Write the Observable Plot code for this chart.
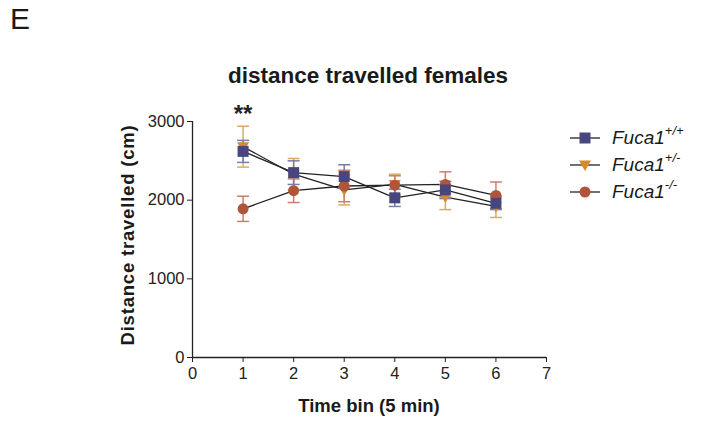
<!DOCTYPE html>
<html>
<head>
<meta charset="utf-8">
<script src="https://cdn.jsdelivr.net/npm/d3@7"></script>
<script src="https://cdn.jsdelivr.net/npm/@observablehq/plot@0.6"></script>
<style>
  html, body { margin: 0; padding: 0; background: #fff; }
  #wrap { position: relative; width: 709px; height: 427px; font-family: "Liberation Sans", Arial, sans-serif; color: #1a1a1a; }
  #wrap svg.plot { position: absolute; left: 0; top: 0; }
  .abs { position: absolute; white-space: nowrap; }
  #panel { left: 10px; top: 2px; font-size: 30px; }
  #title { left: 368px; top: 63px; transform: translateX(-50%); font-size: 22.5px; font-weight: bold; }
  #xlab { left: 369px; top: 395px; transform: translateX(-50%); font-size: 18.5px; font-weight: bold; }
  #ylab { left: 128px; top: 235px; transform: translate(-50%, -50%) rotate(-90deg); font-size: 18.5px; font-weight: bold; letter-spacing: 0.8px; }
  #legend { left: 568px; top: 124px; }
  .row { display: flex; align-items: center; height: 27px; }
  .row svg { margin-right: 10px; }
  .lab { font-style: italic; font-size: 19px; }
  .lab sup { font-size: 13px; position: relative; top: -2px; }
</style>
</head>
<body>
<div id="wrap">
  <div id="panel" class="abs">E</div>
  <div id="title" class="abs">distance travelled females</div>
  <div id="xlab" class="abs">Time bin (5 min)</div>
  <div id="ylab" class="abs">Distance travelled (cm)</div>
  <div id="legend" class="abs"></div>
</div>
<script>
// ---- data ----
const timeBins = [1, 2, 3, 4, 5, 6];
const wtMean  = [2620, 2350, 2300, 2030, 2130, 1960];
const wtSem   = [140, 150, 150, 110, 110, 80];
const hetMean = [2680, 2330, 2130, 2200, 2040, 1920];
const hetSem  = [260, 200, 190, 130, 160, 140];
const koMean  = [1890, 2120, 2180, 2190, 2200, 2060];
const koSem   = [160, 150, 200, 120, 160, 170];
const genotypes = ["+/+", "+/-", "-/-"];
const geneName = "Fuca1";
const xTicks = [0, 1, 2, 3, 4, 5, 6, 7];
const yTicks = [0, 1000, 2000, 3000];
const sigBins = [1];
const sigLabels = ["**"];

// ---- styles ----
const colors = ["#47467e", "#d38b2c", "#b0553a"];
const errColors = ["#7d7ca6", "#e0a865", "#c9806b"];

const sqSym = {draw(c) { const h = 5.5; c.rect(-h, -h, 2*h, 2*h); }};
const triSym = {draw(c) { c.moveTo(-6, -4.5); c.lineTo(6, -4.5); c.lineTo(0, 6); c.closePath(); }};
const circSym = {draw(c) { c.arc(0, 0, 5.5, 0, 2*Math.PI); }};
const capSym = {draw(c) { c.moveTo(-6, 0); c.lineTo(6, 0); }};
const syms = [sqSym, triSym, circSym];

const series = [
  {mean: wtMean, sem: wtSem},
  {mean: hetMean, sem: hetSem},
  {mean: koMean, sem: koSem}
];
const rows = series.map((s, i) => timeBins.map((t, j) => ({
  t, g: genotypes[i], v: s.mean[j], lo: s.mean[j] - s.sem[j], hi: s.mean[j] + s.sem[j]
})));

// draw order: het, ko, wt (wt on top)
const order = [1, 2, 0];
const marks = [];
order.forEach(i => {
  marks.push(Plot.line(rows[i], {x: "t", y: "v", stroke: "#222", strokeWidth: 1.3}));
});
order.forEach(i => {
  marks.push(Plot.ruleX(rows[i], {x: "t", y1: "lo", y2: "hi", stroke: errColors[i], strokeWidth: 1.5}));
  marks.push(Plot.dot(rows[i], {x: "t", y: "hi", symbol: capSym, stroke: errColors[i], strokeWidth: 1.5, fill: "none", r: 6}));
  marks.push(Plot.dot(rows[i], {x: "t", y: "lo", symbol: capSym, stroke: errColors[i], strokeWidth: 1.5, fill: "none", r: 6}));
});
order.forEach(i => {
  marks.push(Plot.dot(rows[i], {x: "t", y: "v", symbol: syms[i], fill: colors[i], stroke: "none", r: 6}));
});

const sig = sigBins.map((t, k) => ({
  t, label: sigLabels[k],
  top: Math.max(...rows.map(r => r.find(d => d.t === t).hi))
}));
marks.push(Plot.text(sig, {x: "t", y: "top", text: "label", dy: -12, fontSize: 24, fontWeight: "bold", fill: "#222"}));

marks.push(Plot.axisY({ticks: yTicks, tickSize: 5, tickPadding: 3, fontSize: 16.5, label: null, stroke: "#222", fill: "#222", tickFormat: d => String(d)}));
marks.push(Plot.axisX({ticks: xTicks, tickSize: 5, tickPadding: 5, fontSize: 16.5, label: null, stroke: "#222", fill: "#222", tickFormat: d => String(d)}));
marks.push(Plot.ruleX([0], {stroke: "#222", strokeWidth: 1.3}));
marks.push(Plot.ruleY([0], {stroke: "#222", strokeWidth: 1.3}));

const chart = Plot.plot({
  width: 709,
  height: 427,
  marginLeft: 192,
  marginRight: 163,
  marginTop: 121,
  marginBottom: 70,
  style: {fontFamily: "'Liberation Sans', Arial, sans-serif", background: "transparent", color: "#222"},
  x: {domain: [0, 7]},
  y: {domain: [0, 3000]},
  marks
});
chart.classList.add("plot");
document.getElementById("wrap").prepend(chart);

// ---- legend ----
const legend = document.getElementById("legend");
genotypes.forEach((g, i) => {
  const row = document.createElement("div");
  row.className = "row";
  const s = d3.create("svg").attr("width", 34).attr("height", 16);
  s.append("line").attr("x1", 2).attr("x2", 32).attr("y1", 8).attr("y2", 8).attr("stroke", "#222").attr("stroke-width", 1.3);
  s.append("path").attr("transform", "translate(17,8)").attr("fill", colors[i])
    .attr("d", d3.symbol().type(syms[i])());
  row.appendChild(s.node());
  const lab = document.createElement("span");
  lab.className = "lab";
  lab.innerHTML = geneName + "<sup>" + g + "</sup>";
  row.appendChild(lab);
  legend.appendChild(row);
});
</script>
</body>
</html>
